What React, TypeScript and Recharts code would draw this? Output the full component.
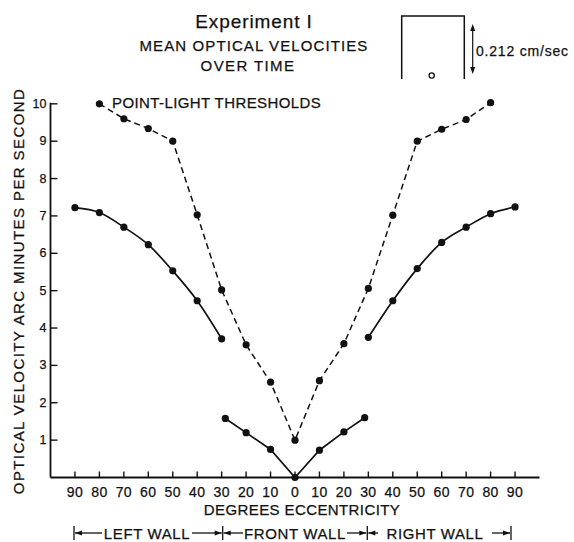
import React from "react";
import { Line, LineChart, XAxis, YAxis } from "recharts";

// degrees eccentricity: negative = left side of the axis, positive = right side
const thresholdDeg = [-80, -70, -60, -50, -40, -30, -20, -10, 0, 10, 20, 30, 40, 50, 60, 70, 80];
const thresholdVel = [10.0, 9.6, 9.34, 9.0, 7.03, 5.02, 3.55, 2.55, 1.0, 2.59, 3.58, 5.06, 7.02, 9.0, 9.32, 9.58, 10.03];

const leftWallDeg = [-90, -80, -70, -60, -50, -40, -30];
const leftWallVel = [7.22, 7.09, 6.7, 6.23, 5.53, 4.73, 3.71];

const rightWallDeg = [30, 40, 50, 60, 70, 80, 90];
const rightWallVel = [3.75, 4.73, 5.59, 6.29, 6.7, 7.06, 7.24];

const frontWallDeg = [-28.5, -20, -10, 0, 10, 20, 28.5];
const frontWallVel = [1.58, 1.2, 0.75, 0, 0.73, 1.22, 1.6];

const xTicks = [-90, -80, -70, -60, -50, -40, -30, -20, -10, 0, 10, 20, 30, 40, 50, 60, 70, 80, 90];
const yTicks = [1, 2, 3, 4, 5, 6, 7, 8, 9, 10];

const toPoints = (deg: number[], vel: number[]) => deg.map((d, i) => ({ deg: d, v: vel[i] }));

const FONT = "'Liberation Sans', Arial, sans-serif";
const INK = "#111";

const W = 574;
const H = 542;

const dotStyle = { r: 3.6, fill: INK, stroke: "none" };

function XTick(props: any) {
  const { x, y, payload } = props;
  return (
    <g>
      <line x1={x} x2={x} y1={y} y2={y - 6} stroke={INK} strokeWidth={1.4} />
      <text
        x={x}
        y={y + 14}
        textAnchor="middle"
        dominantBaseline="central"
        fontSize={14}
        letterSpacing={0.4}
        fill={INK}
        stroke={INK}
        strokeWidth={0.25}
        fontFamily={FONT}
      >
        {Math.abs(payload.value)}
      </text>
    </g>
  );
}

function YTick(props: any) {
  const { x, y, payload } = props;
  return (
    <g>
      <line x1={x} x2={x + 7} y1={y} y2={y} stroke={INK} strokeWidth={1.4} />
      <text
        x={x - 4}
        y={y}
        textAnchor="end"
        dominantBaseline="central"
        fontSize={12.5}
        fill={INK}
        stroke={INK}
        strokeWidth={0.25}
        fontFamily={FONT}
      >
        {payload.value}
      </text>
    </g>
  );
}

function Arrow({ x, y, dir }: { x: number; y: number; dir: 1 | -1 }) {
  // small filled arrowhead with its tip at x
  return <polygon points={`${x},${y} ${x - dir * 7},${y - 2.5} ${x - dir * 7},${y + 2.5}`} fill={INK} />;
}

function Overlay() {
  const wy = 533;
  const bars = [74, 222.7, 367.3, 511];
  const labels = [
    { text: "LEFT WALL", from: 106, to: 188 },
    { text: "FRONT WALL", from: 247, to: 343 },
    { text: "RIGHT WALL", from: 382, to: 488 },
  ];
  return (
    <svg width={W} height={H} style={{ position: "absolute", left: 0, top: 0, pointerEvents: "none" }}>
      <g fontFamily={FONT} fill={INK} stroke={INK} strokeWidth={0.25}>
        <text x={254} y={21} textAnchor="middle" dominantBaseline="central" fontSize={19} letterSpacing={0.9}>
          Experiment I
        </text>
        <text x={254} y={45} textAnchor="middle" dominantBaseline="central" fontSize={15} letterSpacing={1.1}>
          MEAN OPTICAL VELOCITIES
        </text>
        <text x={248} y={65} textAnchor="middle" dominantBaseline="central" fontSize={15} letterSpacing={1.4}>
          OVER TIME
        </text>
        <text x={112} y={102} dominantBaseline="central" fontSize={15} letterSpacing={0.4}>
          POINT-LIGHT THRESHOLDS
        </text>
        <text x={476} y={51} dominantBaseline="central" fontSize={14} letterSpacing={0.8}>
          0.212 cm/sec
        </text>
        <text
          x={0}
          y={0}
          transform="translate(18,291) rotate(-90)"
          textAnchor="middle"
          dominantBaseline="central"
          fontSize={15}
          letterSpacing={1.4}
        >
          OPTICAL VELOCITY ARC MINUTES PER SECOND
        </text>
        <text x={302} y={509} textAnchor="middle" dominantBaseline="central" fontSize={15} letterSpacing={0.4}>
          DEGREES ECCENTRICITY
        </text>
        {labels.map((l) => (
          <text
            key={l.text}
            x={(l.from + l.to) / 2}
            y={wy}
            textAnchor="middle"
            dominantBaseline="central"
            fontSize={15}
            letterSpacing={0.6}
          >
            {l.text}
          </text>
        ))}
      </g>

      {/* the room sketch */}
      <g stroke={INK} strokeWidth={1.5} fill="none">
        <polyline points="401.7,79 401.7,16 464.3,16 464.3,79" />
        <circle cx={431.7} cy={75.5} r={2.6} strokeWidth={1.3} />
        <line x1={472.7} x2={472.7} y1={27} y2={71} strokeWidth={1.2} />
      </g>
      <polygon points="472.7,24 470.2,31 475.2,31" fill={INK} />
      <polygon points="472.7,74 470.2,67 475.2,67" fill={INK} />

      {/* wall brackets */}
      <g stroke={INK} strokeWidth={1.3}>
        {bars.map((b) => (
          <line key={b} x1={b} x2={b} y1={wy - 7} y2={wy + 7} />
        ))}
        {labels.map((l, i) => (
          <g key={l.text}>
            <line x1={bars[i] + 1} x2={l.from - 4} y1={wy} y2={wy} />
            <line x1={l.to + 4} x2={bars[i + 1] - 1} y1={wy} y2={wy} />
          </g>
        ))}
      </g>
      {labels.map((l, i) => (
        <g key={l.text}>
          <Arrow x={bars[i] + 1} y={wy} dir={-1} />
          <Arrow x={bars[i + 1] - 1} y={wy} dir={1} />
        </g>
      ))}
    </svg>
  );
}

export default function App() {
  return (
    <div style={{ position: "absolute", left: 0, top: 0, width: W, height: H, background: "#fff" }}>
      <LineChart width={W} height={H} margin={{ top: 102.7, right: 34.5, left: 49.5, bottom: 63.5 }}>
        <XAxis
          dataKey="deg"
          type="number"
          domain={[-100, 100]}
          ticks={xTicks}
          interval={0}
          height={1}
          tickSize={0}
          tickMargin={0}
          tickLine={false}
          tick={<XTick />}
          axisLine={{ stroke: INK, strokeWidth: 1.8 }}
        />
        <YAxis
          type="number"
          domain={[0, 10]}
          ticks={yTicks}
          interval={0}
          width={1}
          tickSize={0}
          tickMargin={0}
          tickLine={false}
          tick={<YTick />}
          axisLine={{ stroke: INK, strokeWidth: 1.8 }}
        />
        <Line
          data={toPoints(thresholdDeg, thresholdVel)}
          dataKey="v"
          type="linear"
          stroke={INK}
          strokeWidth={1.5}
          strokeDasharray="6 4"
          dot={dotStyle}
          activeDot={false}
          isAnimationActive={false}
        />
        <Line
          data={toPoints(leftWallDeg, leftWallVel)}
          dataKey="v"
          type="monotone"
          stroke={INK}
          strokeWidth={1.7}
          dot={dotStyle}
          activeDot={false}
          isAnimationActive={false}
        />
        <Line
          data={toPoints(rightWallDeg, rightWallVel)}
          dataKey="v"
          type="monotone"
          stroke={INK}
          strokeWidth={1.7}
          dot={dotStyle}
          activeDot={false}
          isAnimationActive={false}
        />
        <Line
          data={toPoints(frontWallDeg, frontWallVel)}
          dataKey="v"
          type="linear"
          stroke={INK}
          strokeWidth={1.7}
          dot={dotStyle}
          activeDot={false}
          isAnimationActive={false}
        />
      </LineChart>
      <Overlay />
    </div>
  );
}
